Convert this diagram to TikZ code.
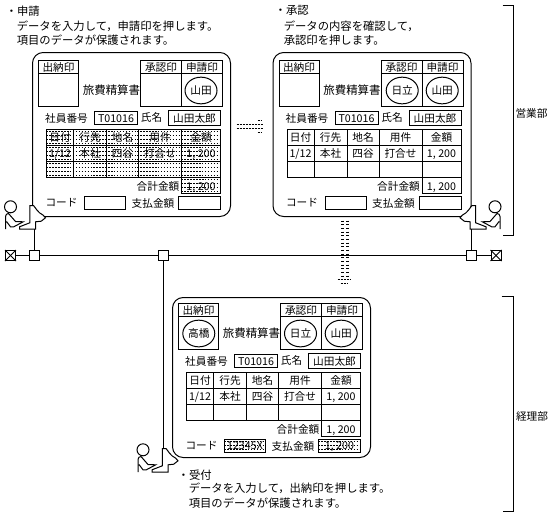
\documentclass[tikz,border=0pt]{standalone}
\usepackage{fontspec}
\setmainfont{Noto Sans CJK JP}
\usetikzlibrary{shapes.geometric}
\tikzset{
  rule/.style={line width=0.75pt},
  formtext/.style={inner sep=0pt, text height=7pt, text depth=1pt, font=\fontsize{8}{10}\selectfont},
  titletext/.style={inner sep=0pt, font=\fontsize{8.6}{10}\selectfont},
  desctext/.style={inner sep=0pt, anchor=west, align=left, font=\fontsize{8.5}{10.7}\selectfont},
  stampmark/.style={draw, ellipse, line width=0.75pt, inner sep=0pt, minimum width=24pt, minimum height=20pt, font=\fontsize{8}{10}\selectfont},
  tapbox/.style={draw, fill=white, line width=0.75pt, inner sep=0pt, minimum size=7.5pt},
  screenrow/.style={line width=0.45pt, dash pattern=on 1.1pt off 1.1pt},
  transfer/.style={line width=0.6pt, dash pattern=on 1.5pt off 0.75pt},
}
% the slip, drawn at the place of the first one: name, dx, dy, inset of the outline
\newcommand{\expenseform}[4]{%
  \begin{scope}[shift={(#2,#3)}, rule]
    \draw[rounded corners=8pt] (32,52+#4) rectangle (230,216-#4);
    % stamp boxes
    \draw (38,60) rectangle (78,106) (38,73) -- (78,73);
    \draw (140,60) rectangle (222,106) (140,73) -- (222,73) (181,60) -- (181,106);
    \node[formtext] (#1cash) at (58,66.5) {出納印};
    \node[formtext] (#1appr) at (160.5,66.5) {承認印};
    \node[formtext] (#1appl) at (201.5,66.5) {申請印};
    \node[titletext] (#1title) at (111,90) {旅費精算書};
    % employee
    \draw (94,111) rectangle (137,123.5) (168,110) rectangle (220,125);
    \node[formtext] (#1idlabel) at (66,117.5) {社員番号};
    \node[formtext] (#1id) at (115.5,117.5) {T01016};
    \node[formtext] (#1namelabel) at (151,116.5) {氏名};
    \node[formtext] (#1name) at (194,117.5) {山田太郎};
    % table
    \draw (46,129) rectangle (220,177) (181,177) rectangle (220,193);
    \foreach \ry in {145,161} \draw (46,\ry) -- (220,\ry);
    \foreach \cx in {73,106,138,181} \draw (\cx,129) -- (\cx,177);
    \foreach \cx/\hd/\dt [count=\ci] in {59.5/日付/{1/12},89.5/行先/本社,122/地名/四谷,159.5/用件/打合せ,200.5/金額/{1, 200}} {
      \node[formtext] (#1head\ci) at (\cx,137) {\hd};
      \node[formtext] (#1data\ci) at (\cx,153) {\dt};
    }
    \node[formtext] (#1sumlabel) at (157.5,185.5) {合計金額};
    \node[formtext] (#1sum) at (200.5,185.5) {1, 200};
    % code and payment
    \draw (84,196) rectangle (125,209) (178,196) rectangle (220,209);
    \node[formtext] (#1codelabel) at (61,201.5) {コード};
    \node[formtext] (#1paylabel) at (152.5,202.5) {支払金額};
  \end{scope}
}
% rows of dots over a box: x1, y1, x2, y2
\newcommand{\screenrows}[4]{%
  \begin{scope}
    \clip (#1,#2) rectangle (#3,#4);
    \foreach \ry in {2,6,...,66} \draw[screenrow] (#1,#2+\ry) -- (#3,#2+\ry);
  \end{scope}
}
% person at a terminal: name, dx, dy, mirror
\newcommand{\clerkstation}[4]{%
  \begin{scope}[shift={(#2,#3)}, xscale=#4, rule]
    \draw (10,206.3) circle[radius=6];
    \draw (5,228.5) -- (5,216) .. controls (5,214) and (6.5,213) .. (8,213) -- (15,221) -- (22.7,221.3) -- (13.3,226.3) -- (10,226.3) -- (6,221);
    \draw[fill=white] (29.3,205) -- (29.3,222.3) -- (19,226.3) -- (19,228.5) -- (35,228.5) -- (35,221.3) -- (40.7,220.7) -- (45,217.3) -- (42.7,214.7) .. controls (37,212) and (35,207) .. (33,205) -- cycle;
    \coordinate (#1low) at (34,228.5);
    \coordinate (#1top) at (30.5,205);
  \end{scope}
}

\begin{document}
\begin{tikzpicture}[x=0.75pt, y=-0.75pt]
  \useasboundingbox (-0.5,-0.5) rectangle (554.5,516.5);
  % captions
  \node[desctext] (reqhead) at (5,11) {・申請};
  \node[desctext] (reqbody) at (16,33) {データを入力して，申請印を押します。\\項目のデータが保護されます。};
  \node[desctext] (okhead) at (274,10) {・承認};
  \node[desctext] (okbody) at (283,33) {データの内容を確認して，\\承認印を押します。};
  \node[desctext] (rcvhead) at (177,475) {・受付};
  \node[desctext] (rcvbody) at (188,495) {データを入力して，出納印を押します。\\項目のデータが保護されます。};
  % the three slips
  \expenseform{req}{0}{0}{0}
  \expenseform{ok}{240.5}{0}{0}
  \expenseform{rcv}{140}{243}{2}
  % stamps
  \node[stampmark] (reqstamp) at (200.5,90) {山田};
  \node[stampmark] (okboss) at (401.7,90) {日立};
  \node[stampmark] (okstamp) at (441.7,90) {山田};
  \node[stampmark] (rcvcash) at (198.3,333) {高橋};
  \node[stampmark] (rcvboss) at (300,333) {日立};
  \node[stampmark] (rcvstamp) at (340.7,333) {山田};
  % code and payment of the last slip
  \node[formtext] (rcvcode) at (244.5,445) {12345X};
  \node[formtext] (rcvpay) at (339,445) {1, 200};
  % screened fields
  \screenrows{46}{129}{220}{177}
  \screenrows{181}{177}{220}{193}
  \screenrows{224}{439}{265}{452}
  \screenrows{318}{439}{360}{452}
  % passing the data on
  \draw[transfer] (236,124) -- (263,124);
  \draw[transfer] (236,128) -- (263,128);
  \draw[transfer] (257,120) -- (261,120);
  \draw[transfer] (257,132) -- (261,132);
  \draw[line width=2.25pt, dash pattern=on 0.6pt off 2.15pt] (342,220) -- (342,276);
  \draw[line width=2.25pt, dash pattern=on 0.6pt off 2.15pt] (347,220) -- (347,276);
  \draw[transfer] (337,279) -- (350,279);
  \draw[transfer] (340,283) -- (347,283);
  % network
  \clerkstation{clerka}{0}{0}{1}
  \clerkstation{clerkb}{504.5}{0}{-1}
  \clerkstation{clerkc}{132.5}{243}{1}
  \node[tapbox] (terml) at (10,255) {};
  \node[tapbox] (tapa) at (34,255) {};
  \node[tapbox] (tapb) at (163,255) {};
  \node[tapbox] (tapc) at (470.5,255) {};
  \node[tapbox] (termr) at (495.5,255) {};
  \draw[rule] (terml) -- (tapa) -- (tapb) -- (tapc) -- (termr);
  \draw[rule] (tapa) -- (clerkalow);
  \draw[rule] (tapc) -- (clerkblow);
  \draw[rule] (tapb) -- (clerkctop);
  \foreach \tb in {terml,termr} {
    \draw[rule] (\tb.north west) -- (\tb.south east);
    \draw[rule] (\tb.north east) -- (\tb.south west);
  }
  % departments
  \coordinate (salestop) at (502,5);
  \coordinate (salesend) at (502,235);
  \coordinate (accttop) at (501,296);
  \coordinate (acctend) at (502,511);
  \draw[rule] (salestop) -- (513,5) -- (513,235) -- (salesend);
  \draw[rule] (accttop) -- (513,296) -- (513,511) -- (acctend);
  \node[formtext] (sales) at (531,113) {営業部};
  \node[formtext] (acct) at (531.5,416) {経理部};
\end{tikzpicture}
\end{document}
